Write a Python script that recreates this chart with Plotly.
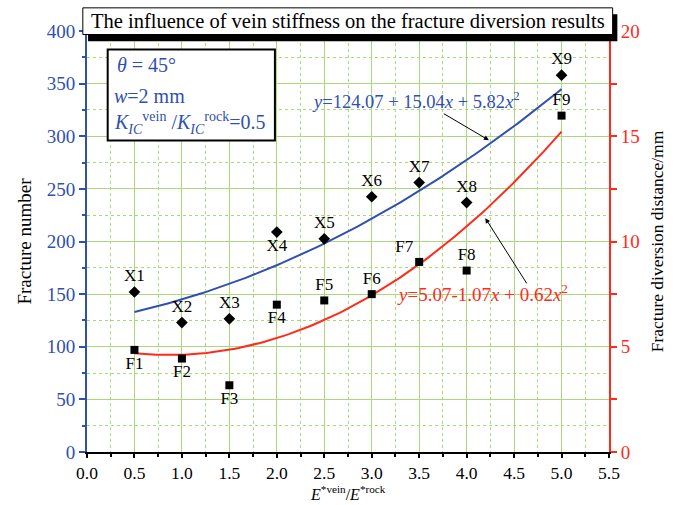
import numpy as np
import plotly.graph_objects as go

# ---------------- data ----------------
stiffness_ratio = [0.5, 1.0, 1.5, 2.0, 2.5, 3.0, 3.5, 4.0, 5.0]
fracture_number = [152, 123, 126.5, 209, 202.5, 242.5, 256, 237, 358]
diversion_distance = [4.85, 4.44, 3.17, 7.0, 7.2, 7.5, 9.03, 8.62, 15.98]
x_point_labels = ["X1", "X2", "X3", "X4", "X5", "X6", "X7", "X8", "X9"]
f_point_labels = ["F1", "F2", "F3", "F4", "F5", "F6", "F7", "F8", "F9"]
x_label_pos = ["top center", "top center", "top center", "bottom center", "top center",
               "top center", "top center", "top center", "top center"]
f_label_pos = ["bottom center", "bottom center", "bottom center", "bottom center", "top center",
               "top center", "top left", "top center", "top center"]
blue_fit_coef = [124.07, 15.04, 5.82]   # y = a + b x + c x^2
red_fit_coef = [5.07, -1.07, 0.62]
fit_range = [0.5, 5.0]
x_ticks = [0.0, 0.5, 1.0, 1.5, 2.0, 2.5, 3.0, 3.5, 4.0, 4.5, 5.0, 5.5]

BLUE = "#3050B0"
RED = "#FF2A1A"
GRID = "#A9D97A"
FONT = "Liberation Serif"

xs = np.linspace(fit_range[0], fit_range[1], 120)
blue_fit = blue_fit_coef[0] + blue_fit_coef[1] * xs + blue_fit_coef[2] * xs ** 2
red_fit = red_fit_coef[0] + red_fit_coef[1] * xs + red_fit_coef[2] * xs ** 2

fig = go.Figure()
fig.add_trace(go.Scatter(x=xs, y=blue_fit, mode="lines", line=dict(color=BLUE, width=2),
                         yaxis="y", showlegend=False, hoverinfo="skip"))
fig.add_trace(go.Scatter(x=xs, y=red_fit, mode="lines", line=dict(color=RED, width=2),
                         yaxis="y2", showlegend=False, hoverinfo="skip"))
fig.add_trace(go.Scatter(x=stiffness_ratio, y=fracture_number, mode="markers+text",
                         marker=dict(symbol="diamond", size=9, color="black"),
                         text=x_point_labels, textposition=x_label_pos,
                         textfont=dict(family=FONT, size=17, color="black"),
                         yaxis="y", showlegend=False))
fig.add_trace(go.Scatter(x=stiffness_ratio, y=diversion_distance, mode="markers+text",
                         marker=dict(symbol="square", size=8, color="black"),
                         text=f_point_labels, textposition=f_label_pos,
                         textfont=dict(family=FONT, size=17, color="black"),
                         yaxis="y2", showlegend=False))

shapes = [
    # title box shadow
    dict(type="rect", xref="paper", yref="paper", x0=0.002, x1=1.016, y0=0.9757, y1=1.04,
         fillcolor="black", line=dict(width=0), layer="above"),
    # title box
    dict(type="rect", xref="paper", yref="paper", x0=-0.008, x1=1.007, y0=0.9917, y1=1.055,
         fillcolor="white", line=dict(color="black", width=1), layer="above"),
    # info box
    dict(type="rect", xref="x", yref="y", x0=0.218, x1=1.98, y0=296, y1=382.5,
         fillcolor="white", line=dict(color="black", width=2), layer="above"),
]

annotations = [
    dict(xref="paper", yref="paper", x=0.4995, y=1.0235, text="The influence of vein stiffness on the fracture diversion results",
         showarrow=False, font=dict(family=FONT, size=20.5, color="black"), xanchor="center", yanchor="middle"),
    dict(xref="x", yref="y", x=0.3, y=368, text="<i>θ</i> = 45°", showarrow=False,
         font=dict(family=FONT, size=20, color=BLUE), xanchor="left", yanchor="middle"),
    dict(xref="x", yref="y", x=0.263, y=338, text="<i>w</i>=2 mm", showarrow=False,
         font=dict(family=FONT, size=20, color=BLUE), xanchor="left", yanchor="middle"),
    dict(xref="x", yref="y", x=0.263, y=313,
         text="<i>K</i><sub><i>IC</i></sub><sup>vein</sup> /<i>K</i><sub><i>IC</i></sub><sup>rock</sup>=0.5",
         showarrow=False, font=dict(family=FONT, size=20, color=BLUE), xanchor="left", yanchor="middle"),
    dict(xref="x", yref="y", x=3.463, y=334.3,
         text="<i>y</i>=124.07 + 15.04<i>x</i> + 5.82<i>x</i><sup>2</sup>",
         showarrow=False, font=dict(family=FONT, size=18.5, color=BLUE), xanchor="center", yanchor="middle"),
    dict(xref="x", yref="y2", x=4.168, y=7.56,
         text="<i>y</i>=5.07-1.07<i>x</i> + 0.62<i>x</i><sup>2</sup>",
         showarrow=False, font=dict(family=FONT, size=19, color=RED), xanchor="center", yanchor="middle"),
    dict(xref="x", yref="y", x=4.235, y=296.2, text="", showarrow=True, arrowhead=2,
         arrowsize=1, arrowwidth=1, arrowcolor="black", axref="pixel", ayref="pixel", ax=-46.6, ay=-27.4),
    dict(xref="x", yref="y2", x=4.197, y=11.11, text="", showarrow=True, arrowhead=2,
         arrowsize=1, arrowwidth=1, arrowcolor="black", axref="pixel", ayref="pixel", ax=42.3, ay=66.7),
    # x-axis title
    dict(xref="paper", yref="paper", x=0.5, y=-0.1245, borderpad=0,
         text="<i>E</i><sup>*vein</sup>/<i>E</i><sup>*rock</sup>",
         showarrow=False, font=dict(family=FONT, size=16, color="black"), xanchor="center", yanchor="bottom"),
]

fig.update_layout(
    width=686, height=505,
    margin=dict(l=87, r=77, t=31, b=53),
    paper_bgcolor="white", plot_bgcolor="white",
    font=dict(family=FONT, size=17, color="black"),
    shapes=shapes, annotations=annotations,
    xaxis=dict(
        range=[0, 5.5], tickvals=x_ticks, ticktext=[f"{v:.1f}" for v in x_ticks],
        showline=True, linecolor="black", linewidth=2,
        ticks="outside", ticklen=4, tickwidth=1.5, tickcolor="black",
        tickfont=dict(family=FONT, size=17.5, color="black"),
        showgrid=True, gridcolor=GRID, gridwidth=1, zeroline=False,
        minor=dict(dtick=0.25, tick0=0, ticks="outside", ticklen=3, tickcolor="black",
                   showgrid=True, gridcolor=GRID, griddash="dot", gridwidth=1),
        automargin=False,
    ),
    yaxis=dict(
        range=[0, 400], dtick=50, tick0=0,
        showline=True, linecolor=BLUE, linewidth=2,
        ticks="outside", ticklen=6, tickwidth=1.5, tickcolor=BLUE,
        tickfont=dict(family=FONT, size=19, color=BLUE),
        showgrid=True, gridcolor=GRID, gridwidth=1, zeroline=False,
        minor=dict(dtick=25, tick0=0, ticks="outside", ticklen=3, tickcolor=BLUE,
                   showgrid=True, gridcolor=GRID, griddash="dot", gridwidth=1),
        title=dict(text="Fracture number", font=dict(family=FONT, size=19, color="black"), standoff=10),
        automargin=False,
    ),
    yaxis2=dict(
        range=[0, 20], dtick=5, tick0=0, overlaying="y", side="right",
        showline=True, linecolor=RED, linewidth=2,
        ticks="outside", ticklen=6, tickwidth=1.5, tickcolor=RED,
        tickfont=dict(family=FONT, size=19, color=RED),
        showgrid=False, zeroline=False,
        minor=dict(dtick=2.5, tick0=0, ticks="outside", ticklen=6, tickcolor=RED, showgrid=False),
        title=dict(text="Fracture diversion distance/mm", font=dict(family=FONT, size=17.5, color="black"), standoff=12),
        automargin=False,
    ),
)

fig.write_html("out.html")
